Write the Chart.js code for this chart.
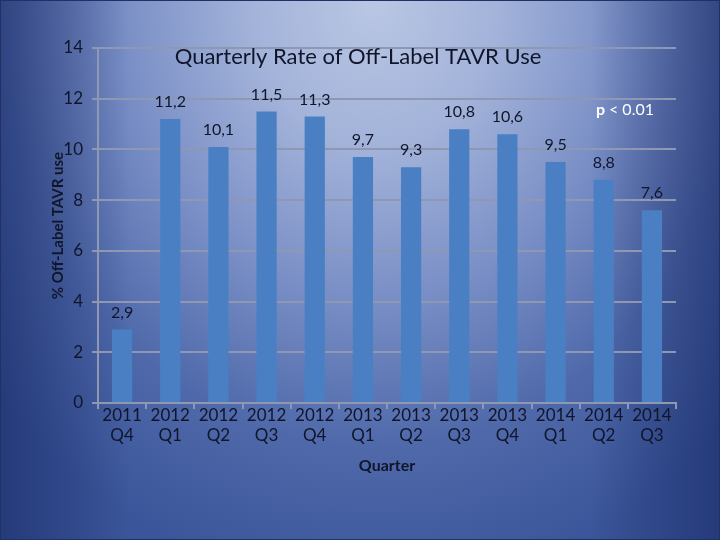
<!DOCTYPE html>
<html>
<head>
<meta charset="utf-8">
<script src="https://cdn.jsdelivr.net/npm/chart.js@4"></script>
<style>
  html, body { margin: 0; padding: 0; }
  body {
    width: 720px; height: 540px; overflow: hidden;
    background:
      linear-gradient(90deg, rgba(20,36,95,0.55) 0%, rgba(20,36,95,0) 18%, rgba(20,36,95,0) 82%, rgba(20,36,95,0.55) 100%),
      radial-gradient(ellipse 70% 110% at 52% 0%, #bac7e4 0%, #a2b2d9 25%, #7a8fc6 50%, #4f69aa 75%, #3a5599 100%);
  }
  #wrap { position: relative; width: 720px; height: 540px; box-shadow: inset 0 0 0 1px #223066; }
</style>
</head>
<body>
<div id="wrap"><canvas id="chart" width="720" height="540"></canvas></div>
<script>
const quarters = [['2011', 'Q4'], ['2012', 'Q1'], ['2012', 'Q2'], ['2012', 'Q3'], ['2012', 'Q4'], ['2013', 'Q1'],
                  ['2013', 'Q2'], ['2013', 'Q3'], ['2013', 'Q4'], ['2014', 'Q1'], ['2014', 'Q2'], ['2014', 'Q3']];
const offLabelRate = [2.9, 11.2, 10.1, 11.5, 11.3, 9.7, 9.3, 10.8, 10.6, 9.5, 8.8, 7.6];

const chartTitle = 'Quarterly Rate of Off-Label TAVR Use';
const yTitle = '% Off-Label TAVR use';
const xTitle = 'Quarter';

const FONT = 'Lato, "Open Sans", sans-serif';
const TEXT = '#10152a';
const GRID = '#8e98b2';

// bar value labels, with decimal comma like the original slide
const valueLabels = {
    id: 'valueLabels',
    afterDatasetsDraw(chart) {
        const ctx = chart.ctx;
        const meta = chart.getDatasetMeta(0);
        ctx.save();
        ctx.font = '16px ' + FONT;
        ctx.fillStyle = TEXT;
        ctx.textAlign = 'center';
        ctx.textBaseline = 'middle';
        meta.data.forEach((bar, i) => {
            const txt = String(offLabelRate[i]).replace('.', ',');
            ctx.fillText(txt, bar.x, bar.y - 17);
        });
        ctx.restore();
    }
};

// title sits inside the plot, plus the p-value note
const overlayText = {
    id: 'overlayText',
    afterDraw(chart) {
        const ctx = chart.ctx;
        const area = chart.chartArea;
        ctx.save();
        ctx.font = '22px ' + FONT;
        ctx.fillStyle = TEXT;
        ctx.textAlign = 'center';
        ctx.textBaseline = 'middle';
        ctx.fillText(chartTitle, (area.left + area.right) / 2 - 29, area.top + 9);

        ctx.fillStyle = '#ffffff';
        ctx.textAlign = 'left';
        ctx.font = 'bold 16px ' + FONT;
        const px = area.right - 80;
        const py = area.top + 62;
        ctx.fillText('p', px, py);
        const w = ctx.measureText('p ').width;
        ctx.font = '16px ' + FONT;
        ctx.fillText('< 0.01', px + w, py);
        ctx.restore();
    }
};

function buildChart() {
    const data = {
        labels: quarters,
        datasets: [{
            data: offLabelRate,
            backgroundColor: '#4a80c3',
            borderWidth: 0,
            barPercentage: 0.42,
            categoryPercentage: 1
        }]
    };

    const config = {
        type: 'bar',
        data: data,
        options: {
            responsive: false,
            animation: false,
            layout: { padding: { left: 0, right: 44, top: 48, bottom: 62 } },
            plugins: {
                legend: { display: false },
                tooltip: { enabled: false },
                title: { display: false }
            },
            scales: {
                x: {
                    afterFit(scale) { scale.height = 75; },
                    grid: {
                        display: true,
                        drawOnChartArea: false,
                        offset: true,
                        color: GRID,
                        lineWidth: 2,
                        tickLength: 6
                    },
                    border: { color: GRID, width: 2 },
                    ticks: {
                        color: TEXT,
                        font: { family: FONT, size: 17 },
                        padding: -4,
                        maxRotation: 0,
                        autoSkip: false
                    },
                    title: {
                        display: true,
                        text: xTitle,
                        color: TEXT,
                        font: { family: FONT, size: 16, weight: 'bold' },
                        padding: { top: 0, bottom: 3 }
                    }
                },
                y: {
                    min: 0,
                    max: 14,
                    afterFit(scale) { scale.width = 98; },
                    ticks: {
                        stepSize: 2,
                        color: TEXT,
                        font: { family: FONT, size: 17 },
                        padding: 9
                    },
                    grid: {
                        color: GRID,
                        lineWidth: 2,
                        tickLength: 6
                    },
                    border: { color: GRID, width: 2 },
                    title: {
                        display: true,
                        text: yTitle,
                        color: TEXT,
                        font: { family: FONT, size: 15, weight: 'bold' },
                        padding: { top: 49, bottom: 0 }
                    }
                }
            }
        },
        plugins: [valueLabels, overlayText]
    };

    return new Chart(document.getElementById('chart'), config);
}

buildChart();
</script>
</body>
</html>
